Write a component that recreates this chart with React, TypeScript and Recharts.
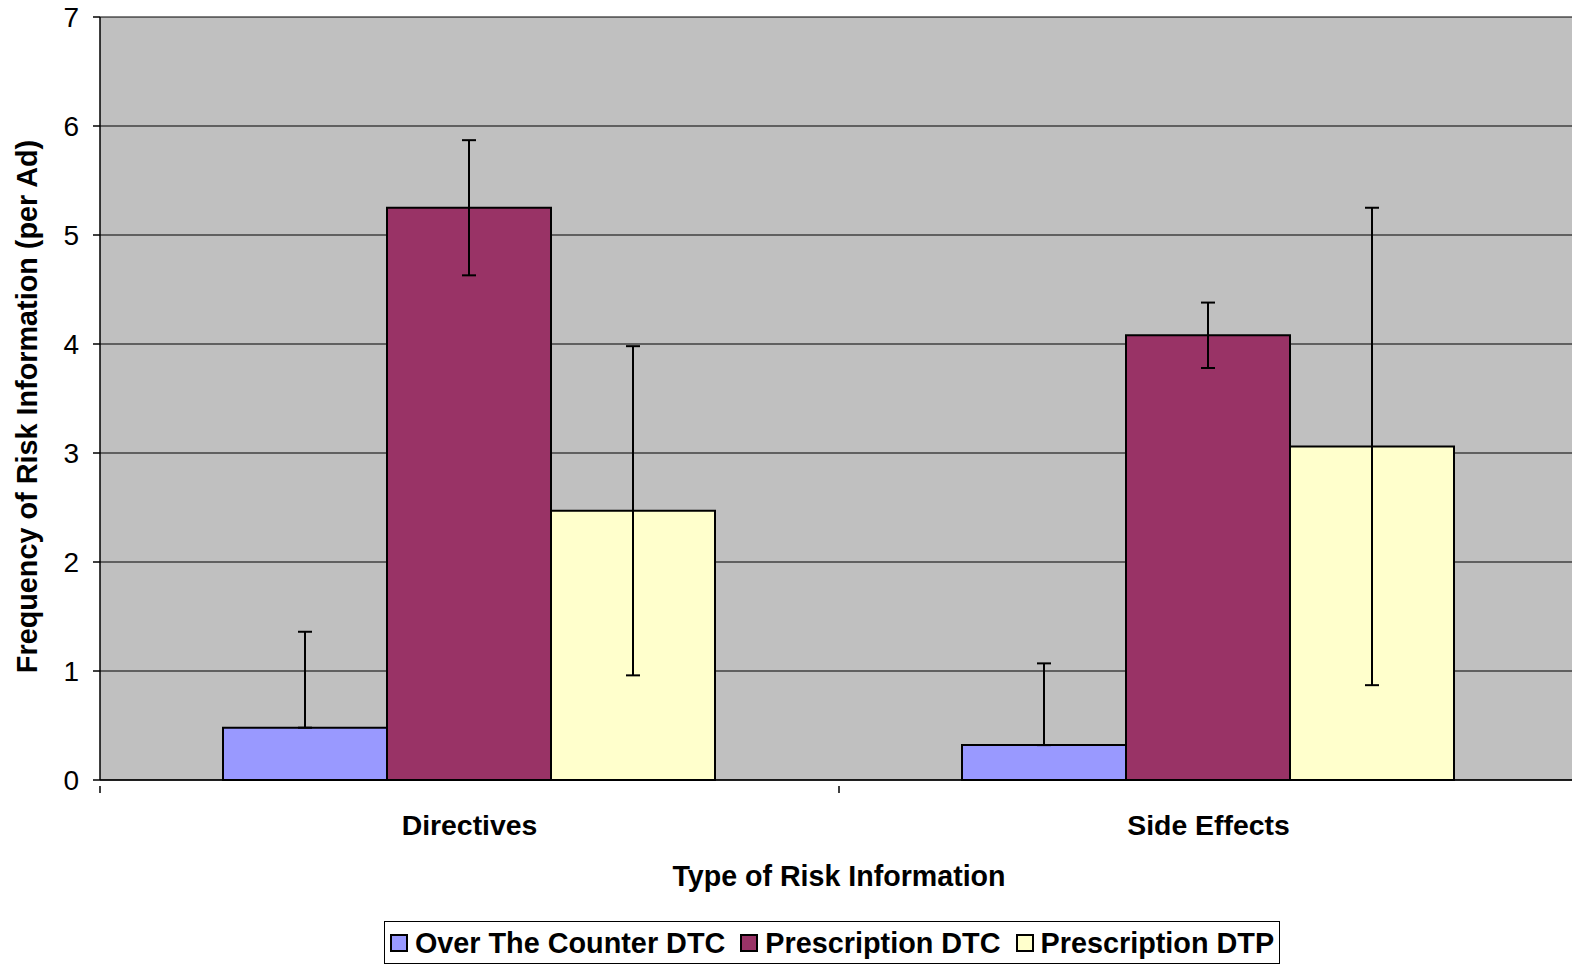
import React from 'react';
import { BarChart, Bar, XAxis, YAxis, CartesianGrid, ErrorBar } from 'recharts';

const categories = ['Directives', 'Side Effects'];
const seriesNames = ['Over The Counter DTC', 'Prescription DTC', 'Prescription DTP'];
const seriesColors = ['#9999FF', '#993366', '#FFFFCC'];
const otcValues = [0.48, 0.32];
const otcErrors = [0.88, 0.75];
const rxDtcValues = [5.25, 4.08];
const rxDtcErrors = [0.62, 0.3];
const rxDtpValues = [2.47, 3.06];
const rxDtpErrors = [1.51, 2.19];
const yTicks = [0, 1, 2, 3, 4, 5, 6, 7];
const xTitle = 'Type of Risk Information';
const yTitle = 'Frequency of Risk Information (per Ad)';

const data = categories.map((c, i) => ({
  name: c,
  otc: otcValues[i],
  otcErr: [0, otcErrors[i]],
  dtc: rxDtcValues[i],
  dtcErr: rxDtcErrors[i],
  dtp: rxDtpValues[i],
  dtpErr: rxDtpErrors[i],
}));

const FONT = '"Liberation Sans", Arial, sans-serif';
const TICK_MARGIN = 29;

const XTick = (props: any) => {
  const { x, y, payload, index, visibleTicksCount } = props;
  const off = payload.offset || 0;
  const axisY = y - TICK_MARGIN;
  return (
    <g>
      <line x1={x - off} x2={x - off} y1={axisY} y2={axisY + 7} stroke="#000" strokeWidth={1.5} />
      {index === (visibleTicksCount ? visibleTicksCount - 1 : categories.length - 1) && (
        <line x1={x + off} x2={x + off} y1={axisY} y2={axisY + 7} stroke="#000" strokeWidth={1.5} />
      )}
      <text x={x} y={y} dy="0.71em" textAnchor="middle" fontFamily={FONT} fontWeight="bold" fontSize={28.4} fill="#000">
        {payload.value}
      </text>
    </g>
  );
};

const YTitle = (props: any) => {
  const vb = props.viewBox || { x: 0, y: 17, width: 100, height: 763 };
  const cx = vb.x + 27;
  const cy = vb.y + vb.height / 2 + 8;
  return (
    <text
      x={cx}
      y={cy}
      transform={`rotate(-90, ${cx}, ${cy})`}
      textAnchor="middle"
      dominantBaseline="central"
      fontFamily={FONT}
      fontWeight="bold"
      fontSize={28.8}
      fill="#000"
    >
      {yTitle}
    </text>
  );
};

export default function App() {
  return (
    <div style={{ position: 'absolute', left: 0, top: 0, width: 1572, height: 966, overflow: 'hidden', background: '#fff' }}>
      <BarChart
        width={1590}
        height={966}
        data={data}
        margin={{ top: 17, right: 12, bottom: 86, left: 0 }}
        barCategoryGap={123}
        barGap={0}
      >
        <CartesianGrid vertical={false} stroke="#000" strokeWidth={1} fill="#C0C0C0" />
        <XAxis
          dataKey="name"
          height={100}
          axisLine={{ stroke: '#000', strokeWidth: 1.5 }}
          tickLine={false}
          tickMargin={TICK_MARGIN}
          tick={<XTick />}
          interval={0}
          label={{ value: xTitle, position: 'insideBottom', offset: -6, fontFamily: FONT, fontWeight: 'bold', fontSize: 28.6, fill: '#000' }}
        />
        <YAxis
          width={100}
          domain={[0, 7]}
          ticks={yTicks}
          interval={0}
          axisLine={{ stroke: '#000', strokeWidth: 1.5 }}
          tickLine={{ stroke: '#000', strokeWidth: 1.5 }}
          tickSize={7}
          tickMargin={14}
          tick={{ fontFamily: FONT, fontSize: 28, fill: '#000' }}
          label={<YTitle />}
        />
        <Bar dataKey="otc" fill={seriesColors[0]} stroke="#000" strokeWidth={2} isAnimationActive={false}>
          <ErrorBar dataKey="otcErr" width={7} stroke="#000" strokeWidth={2} direction="y" />
        </Bar>
        <Bar dataKey="dtc" fill={seriesColors[1]} stroke="#000" strokeWidth={2} isAnimationActive={false}>
          <ErrorBar dataKey="dtcErr" width={7} stroke="#000" strokeWidth={2} direction="y" />
        </Bar>
        <Bar dataKey="dtp" fill={seriesColors[2]} stroke="#000" strokeWidth={2} isAnimationActive={false}>
          <ErrorBar dataKey="dtpErr" width={7} stroke="#000" strokeWidth={2} direction="y" />
        </Bar>
      </BarChart>
      <div
        style={{
          position: 'absolute',
          left: 384,
          top: 921,
          width: 896,
          height: 43,
          border: '1px solid #000',
          boxSizing: 'border-box',
          display: 'flex',
          alignItems: 'center',
          justifyContent: 'center',
          fontFamily: FONT,
          fontWeight: 'bold',
          fontSize: 28.8,
          color: '#000',
          background: '#fff',
        }}
      >
        {seriesNames.map((n, i) => (
          <div key={n} style={{ display: 'flex', alignItems: 'center', marginLeft: i === 0 ? 0 : 15 }}>
            <span
              style={{
                display: 'inline-block',
                width: 18,
                height: 18,
                background: seriesColors[i],
                border: '2px solid #000',
                boxSizing: 'border-box',
                marginRight: 7,
              }}
            />
            <span style={{ lineHeight: '30px' }}>{n}</span>
          </div>
        ))}
      </div>
    </div>
  );
}
